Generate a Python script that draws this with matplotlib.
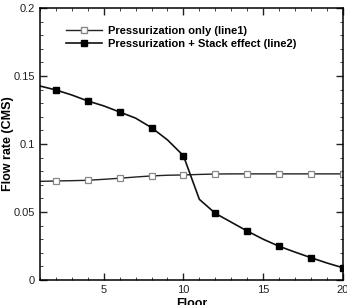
import matplotlib
matplotlib.use("Agg")
import matplotlib.pyplot as plt
import numpy as np
from matplotlib.ticker import MultipleLocator, FormatStrFormatter

plt.rcParams["font.family"] = ["Liberation Sans", "DejaVu Sans"]

floors = list(range(1, 21))
line1 = [0.0725, 0.0728, 0.0730, 0.0733, 0.0740, 0.0748, 0.0757, 0.0765, 0.0770, 0.0772,
         0.0776, 0.0779, 0.0780, 0.0780, 0.0780, 0.0780, 0.0780, 0.0780, 0.0780, 0.0780]
line2 = [0.1426, 0.1397, 0.1360, 0.1316, 0.1280, 0.1235, 0.1190, 0.1120, 0.1030, 0.0914,
         0.0593, 0.0490, 0.0425, 0.0360, 0.0300, 0.0248, 0.0205, 0.0164, 0.0125, 0.0090]

fig = plt.figure(figsize=(3.47, 3.05), dpi=100)
ax = fig.add_axes([0.115, 0.082, 0.873, 0.892])

ax.plot(floors, line1, color="#222222", lw=1.0)
ax.plot(floors[1::2], line1[1::2], ls="none", marker="s", ms=5, mfc="white",
        mec="#888888", mew=0.9)
ax.plot(floors, line2, color="#111111", lw=1.2)
ax.plot(floors[1::2], line2[1::2], ls="none", marker="s", ms=5, mfc="black", mec="black")

h1, = ax.plot([], [], color="#222222", lw=1.0, marker="s", ms=5, mfc="white", mec="#888888")
h2, = ax.plot([], [], color="#111111", lw=1.2, marker="s", ms=5, mfc="black", mec="black")
ax.legend([h1, h2], ["Pressurization only (line1)", "Pressurization + Stack effect (line2)"],
          loc="upper left", bbox_to_anchor=(0.07, 0.95), frameon=False,
          prop={"weight": "bold", "size": 8}, handlelength=3.3, handletextpad=0.5,
          labelspacing=0.3, borderaxespad=0)

ax.set_xlim(1, 20)
ax.set_ylim(0, 0.2)
ax.xaxis.set_major_locator(MultipleLocator(5))
ax.xaxis.set_minor_locator(MultipleLocator(1))
ax.yaxis.set_major_locator(MultipleLocator(0.05))
ax.yaxis.set_minor_locator(MultipleLocator(0.01))
ax.yaxis.set_major_formatter(FormatStrFormatter("%g"))
ax.tick_params(which="both", direction="in", top=True, right=True, labelsize=8,
               colors="#222222", labelcolor="#222222")
ax.tick_params(which="major", length=5, width=1)
ax.tick_params(which="minor", length=2.5, width=0.6)
for s in ax.spines.values():
    s.set_linewidth(1.1)

ax.set_xlabel("Floor", fontsize=9, fontweight="bold", labelpad=2)
ax.set_ylabel("Flow rate (CMS)", fontsize=9, fontweight="bold", va="center")
ax.yaxis.set_label_coords(-0.105, 0.5)

fig.savefig("out.png", dpi=100)
